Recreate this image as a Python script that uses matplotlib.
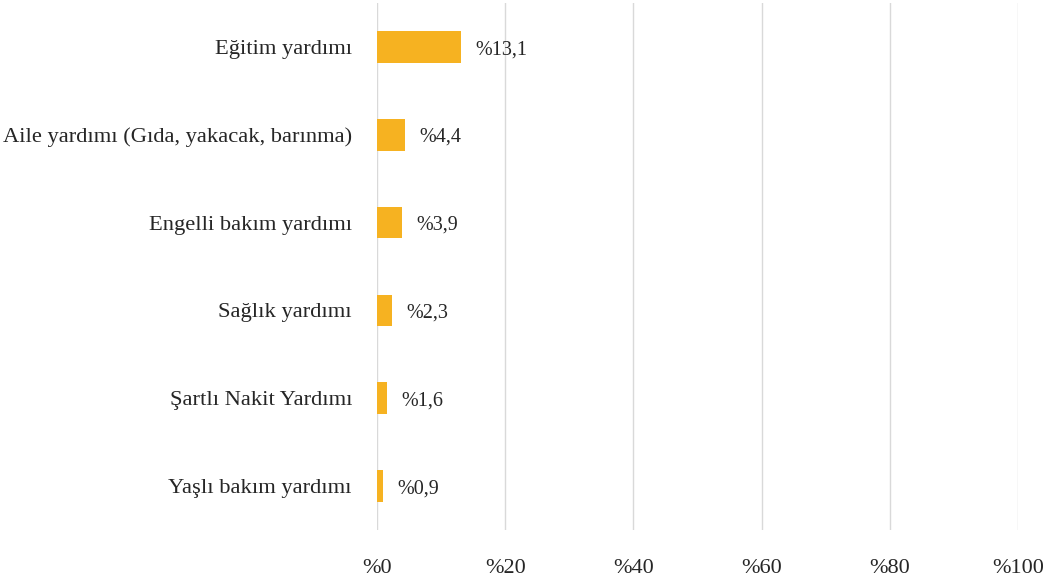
import matplotlib.pyplot as plt

# Data
categories = ['Eğitim yardımı', 'Aile yardımı (Gıda, yakacak, barınma)',
              'Engelli bakım yardımı', 'Sağlık yardımı',
              'Şartlı Nakit Yardımı', 'Yaşlı bakım yardımı']
values = [13.1, 4.4, 3.9, 2.3, 1.6, 0.9]
value_labels = ['%13,1', '%4,4', '%3,9', '%2,3', '%1,6', '%0,9']
xticks = [0, 20, 40, 60, 80, 100]
xtick_labels = ['%0', '%20', '%40', '%60', '%80', '%100']

plt.rcParams['font.family'] = ['Liberation Serif', 'DejaVu Serif']

fig = plt.figure(figsize=(10.58, 5.85), dpi=100)
ax = fig.add_axes([377 / 1058, 1 - 530 / 585, 641 / 1058, 527 / 585])

ypos = list(range(len(categories)))
ax.barh(ypos, values, height=0.36, color='#F6B221', zorder=3)

# value labels right of each bar
for y, v, lab in zip(ypos, values, value_labels):
    ax.annotate(lab, (v, y), xytext=(10.5, -2), textcoords='offset points',
                va='center', ha='left', fontsize=14.5, color='#262626')

ax.set_xlim(0, 100)
ax.set_ylim(len(categories) - 0.5, -0.5)
ax.set_yticks(ypos)
ax.set_yticklabels(categories, fontsize=16.2, color='#262626')
ax.set_xticks(xticks)
ax.set_xticklabels(xtick_labels, fontsize=16, color='#262626')
ax.tick_params(axis='y', length=0, pad=18)
ax.tick_params(axis='x', length=0, pad=21)

ax.grid(axis='x', color='#D9D9D9', linewidth=1, zorder=0)
for s in ax.spines.values():
    s.set_visible(False)

fig.savefig('out.png', dpi=100)
